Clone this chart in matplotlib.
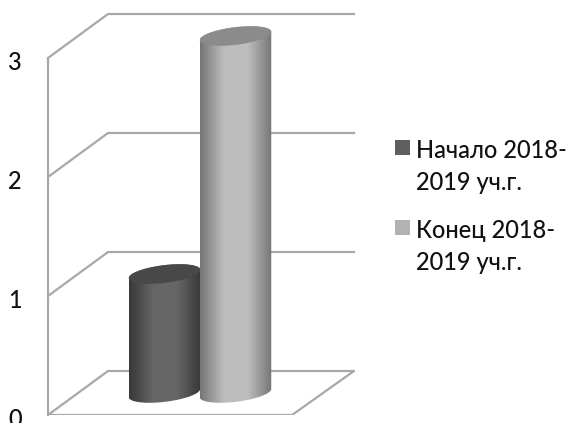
import numpy as np
import matplotlib
matplotlib.use('Agg')
import matplotlib.pyplot as plt
from matplotlib.legend_handler import HandlerPatch
from matplotlib.patches import Patch, PathPatch, Rectangle
from matplotlib.path import Path
from matplotlib.colors import LinearSegmentedColormap
from matplotlib.transforms import ScaledTranslation

plt.rcParams['font.family'] = ['Lato', 'Open Sans', 'DejaVu Sans']
plt.rcParams['font.weight'] = 'medium'

# chart data
labels = ['Начало 2018-\n2019 уч.г.', 'Конец 2018-\n2019 уч.г.']
values = [1, 3]
yticks = [0, 1, 2, 3]

# colors: edge, middle, top cap, legend
colors = [('#383838', '#666666', '#484848', '#5f5f5f'),
          ('#767676', '#bdbdbd', '#8b8b8b', '#b2b2b2')]
grid_color = '#a8a8a8'

# layout in pixels
W, H = 568, 423
LEFT, BASE = 48, 415
UNIT = 119.0       # pixels per value
DEPTH_X, DEPTH_Y = 60, 44
FLOOR_W = 244
CENTERS = [86.5, 157.5]
RX, RY, TILT = 36.0, 8.8, np.radians(7)

fig = plt.figure(figsize=(W / 100, H / 100), dpi=100, facecolor='w')
ax = fig.add_axes([LEFT / W, (H - BASE) / H, (W - LEFT) / W, BASE / H], facecolor='none')
ax.set_xlim(0, W - LEFT)
ax.set_ylim(0, BASE / UNIT)

dy = DEPTH_Y / UNIT

# walls and floor
for v in yticks[1:]:
    ax.plot([0, DEPTH_X, FLOOR_W + 62], [v, v + dy, v + dy], color=grid_color, lw=1.6, zorder=1)
ax.plot([0, DEPTH_X, FLOOR_W + 62, FLOOR_W, 0], [0, dy, dy, 0, 0], color=grid_color, lw=1.6, zorder=1)

for s in ('top', 'right', 'bottom'):
    ax.spines[s].set_visible(False)
ax.spines['left'].set_color(grid_color)
ax.spines['left'].set_linewidth(1.6)
ax.spines['left'].set_bounds(0, yticks[-1])
ax.set_xticks([])
ax.set_yticks(yticks)
ax.tick_params(axis='y', length=0, pad=19, labelsize=17, labelcolor='#111111')
# tick labels sit a little below their lines
for lab in ax.get_yticklabels():
    lab.set_transform(lab.get_transform() + ScaledTranslation(0, -2.5 / 100, fig.dpi_scale_trans))


def ellipse(cx, cy, t):
    # tilted ellipse in data units
    x = cx + RX * np.cos(t) * np.cos(TILT) - RY * np.sin(t) * np.sin(TILT)
    y = cy + (RX * np.cos(t) * np.sin(TILT) + RY * np.sin(t) * np.cos(TILT)) / UNIT
    return x, y


def cylinder(center, value, cols, z):
    cx = center + DEPTH_X / 2
    cy0 = dy / 2
    cy1 = value + dy / 2
    # angle where the side of the cylinder touches the ellipse
    t0 = np.arctan2(-RY * np.sin(TILT), RX * np.cos(TILT))
    t_low = np.linspace(t0 - np.pi, t0, 60)
    t_up = np.linspace(t0, t0 + np.pi, 60)
    xb, yb = ellipse(cx, cy0, t_low)
    xt, yt = ellipse(cx, cy1, t_up)
    body = Path(np.column_stack([np.r_[xb, xt], np.r_[yb, yt]]))
    edge, mid, cap, _ = cols
    cmap = LinearSegmentedColormap.from_list('c', [edge, mid, mid, edge])
    grad = np.linspace(0, 1, 128).reshape(1, -1)
    im = ax.imshow(grad, cmap=cmap, aspect='auto', zorder=z, interpolation='bilinear',
                   extent=[xb.min(), xb.max(), yb.min(), yt.max()])
    patch = PathPatch(body, transform=ax.transData, fc='none', ec='none')
    ax.add_patch(patch)
    im.set_clip_path(patch)
    xc, yc = ellipse(cx, cy1, np.linspace(0, 2 * np.pi, 120))
    ax.fill(xc, yc, color=cap, zorder=z + 0.1, lw=0)


for i in range(len(values)):
    cylinder(CENTERS[i], values[i], colors[i], 3 + i)

ax.set_xlim(0, W - LEFT)
ax.set_ylim(0, BASE / UNIT)


# legend square sits next to the first line of its label
def top_square(legend, orig_handle, xdescent, ydescent, width, height, fontsize):
    return Rectangle((-xdescent, -ydescent + 14.5), 10.8, 10.8)


handles = [Patch(fc=c[3], ec='none', label=l) for c, l in zip(colors, labels)]
leg = fig.legend(handles=handles, loc='upper left', bbox_to_anchor=(395 / W, 1 - 139 / H),
                 frameon=False, fontsize=17, handlelength=0.64, handleheight=0.64,
                 handletextpad=0.25, labelspacing=1.06, borderpad=0, borderaxespad=0,
                 handler_map={Patch: HandlerPatch(patch_func=top_square)})
for t in leg.get_texts():
    t.set_linespacing(1.46)
    t.set_color('#111111')

fig.savefig('out.png', dpi=100, facecolor='w')
